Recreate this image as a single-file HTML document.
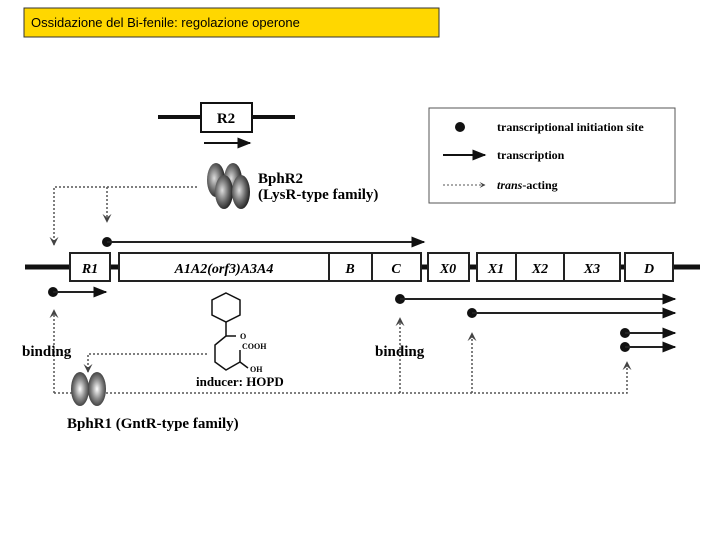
<!DOCTYPE html><html><head><style>body{margin:0;background:#fff}svg{display:block}text{font-family:"Liberation Serif",serif;font-weight:bold}</style></head><body>
<svg width="720" height="540" viewBox="0 0 720 540" xmlns="http://www.w3.org/2000/svg">
<defs>
<marker id="a" viewBox="0 0 10 10" refX="9" refY="5" markerWidth="7" markerHeight="7" orient="auto"><path d="M0,1L10,5L0,9z" fill="#111"/></marker>
<marker id="d" viewBox="0 0 10 10" refX="9" refY="5" markerWidth="6" markerHeight="6" orient="auto"><path d="M0,0L10,5L0,10L4,5z" fill="#444"/></marker>
<radialGradient id="g" cx="0.4" cy="0.45" r="0.6"><stop offset="0" stop-color="#ddd"/><stop offset="0.6" stop-color="#666"/><stop offset="1" stop-color="#222"/></radialGradient>
<radialGradient id="h" cx="0.5" cy="0.5" r="0.6"><stop offset="0" stop-color="#fff"/><stop offset="0.5" stop-color="#888"/><stop offset="1" stop-color="#222"/></radialGradient>
</defs>
<rect x="24" y="8" width="415" height="29" fill="#ffd700" stroke="#333"/>
<text x="31" y="27" style="font-family:'Liberation Sans',sans-serif;font-weight:normal;font-size:13px">Ossidazione del Bi-fenile: regolazione operone</text>
<!-- R2 -->
<line x1="158" y1="117" x2="295" y2="117" stroke="#111" stroke-width="4"/>
<rect x="201" y="103" width="51" height="29" fill="#fff" stroke="#111" stroke-width="2"/>
<text x="226" y="123" font-size="15" text-anchor="middle">R2</text>
<line x1="204" y1="143" x2="250" y2="143" stroke="#111" stroke-width="2" marker-end="url(#a)"/>
<g fill="url(#g)"><ellipse cx="216" cy="180" rx="9" ry="17"/><ellipse cx="233" cy="180" rx="9" ry="17"/><ellipse cx="224" cy="192" rx="9" ry="17"/><ellipse cx="241" cy="192" rx="9" ry="17"/></g>
<text x="258" y="183" font-size="15">BphR2</text><text x="258" y="199" font-size="15">(LysR-type family)</text>
<g stroke="#555" stroke-width="1.5" stroke-dasharray="2,2" fill="none">
<path d="M197,187H54V245" marker-end="url(#d)"/><path d="M107,187V222" marker-end="url(#d)"/>
<path d="M54,393V310" marker-end="url(#d)"/><path d="M54,393H627V362" marker-end="url(#d)"/>
<path d="M207,354H88V372" marker-end="url(#d)"/>
<path d="M400,393V318" marker-end="url(#d)"/><path d="M472,393V333" marker-end="url(#d)"/>
</g>
<!-- legend -->
<rect x="429" y="108" width="246" height="95" fill="#fff" stroke="#555"/>
<circle cx="460" cy="127" r="5" fill="#111"/>
<text x="497" y="131" font-size="12">transcriptional initiation site</text>
<line x1="443" y1="155" x2="485" y2="155" stroke="#111" stroke-width="2" marker-end="url(#a)"/>
<text x="497" y="159" font-size="12">transcription</text>
<line x1="443" y1="185" x2="485" y2="185" stroke="#555" stroke-dasharray="2,2" marker-end="url(#d)"/>
<text x="497" y="189" font-size="12"><tspan font-style="italic">trans</tspan>-acting</text>
<!-- main -->
<circle cx="107" cy="242" r="5" fill="#111"/>
<line x1="107" y1="242" x2="424" y2="242" stroke="#222" stroke-width="2" marker-end="url(#a)"/>
<line x1="25" y1="267" x2="700" y2="267" stroke="#111" stroke-width="5"/>
<g fill="#fff" stroke="#222" stroke-width="2">
<rect x="70" y="253" width="40" height="28"/><rect x="119" y="253" width="210" height="28"/><rect x="329" y="253" width="43" height="28"/><rect x="372" y="253" width="49" height="28"/>
<rect x="428" y="253" width="41" height="28"/><rect x="477" y="253" width="39" height="28"/><rect x="516" y="253" width="48" height="28"/><rect x="564" y="253" width="56" height="28"/><rect x="625" y="253" width="48" height="28"/></g>
<g font-size="14" font-style="italic" text-anchor="middle">
<text x="90" y="273">R1</text><text x="224" y="273">A1A2(orf3)A3A4</text><text x="350" y="273">B</text><text x="396" y="273">C</text>
<text x="448" y="273">X0</text><text x="496" y="273">X1</text><text x="540" y="273">X2</text><text x="592" y="273">X3</text><text x="649" y="273">D</text></g>
<g fill="#111"><circle cx="53" cy="292" r="5"/><circle cx="400" cy="299" r="5"/><circle cx="472" cy="313" r="5"/><circle cx="625" cy="333" r="5"/><circle cx="625" cy="347" r="5"/></g>
<g stroke="#222" stroke-width="2" marker-end="url(#a)">
<line x1="53" y1="292" x2="106" y2="292"/><line x1="400" y1="299" x2="675" y2="299"/><line x1="472" y1="313" x2="675" y2="313"/><line x1="625" y1="333" x2="675" y2="333"/><line x1="625" y1="347" x2="675" y2="347"/></g>
<text x="22" y="356" font-size="15">binding</text><text x="375" y="356" font-size="15">binding</text>
<g fill="url(#h)"><ellipse cx="80" cy="389" rx="9" ry="17"/><ellipse cx="97" cy="389" rx="9" ry="17"/></g>
<text x="67" y="428" font-size="15">BphR1 (GntR-type family)</text>
<!-- HOPD -->
<g stroke="#111" stroke-width="1.5" fill="none">
<polygon points="226,293 240,300 240,315 226,322 212,315 212,300"/>
<path d="M226,322V336L215,345V362L226,370L240,362"/><path d="M226,336H236"/><path d="M240,362V350M240,362L248,368"/></g>
<text x="240" y="339" font-size="8">O</text><text x="242" y="349" font-size="8">COOH</text><text x="250" y="372" font-size="8">OH</text>
<text x="196" y="386" font-size="13">inducer: HOPD</text>
</svg></body></html>
